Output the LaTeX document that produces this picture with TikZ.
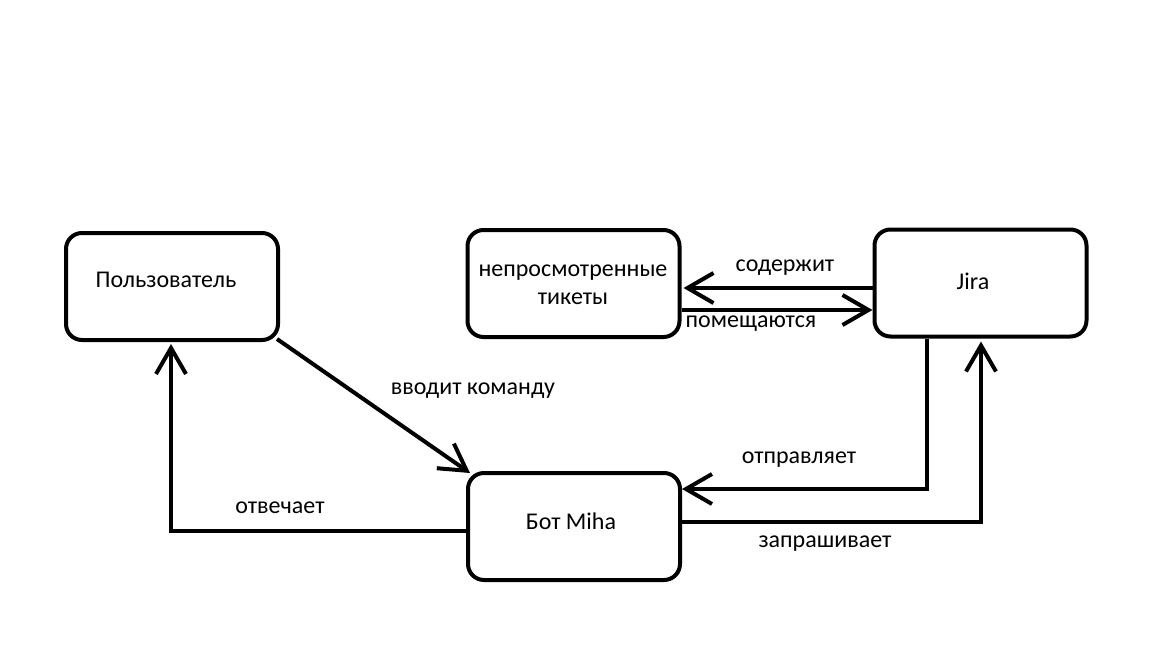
\documentclass[tikz,border=0pt]{standalone}
\usepackage{fontspec}
\setmainfont{Carlito}
\usetikzlibrary{arrows.meta,calc}
\tikzset{
  box/.style={draw=black,line width=4pt,rounded corners=16pt,minimum width=212pt,minimum height=107pt,inner sep=0pt},
  txt/.style={font=\fontsize{24}{28}\selectfont,inner sep=0pt,align=center},
  arr/.style={line width=4pt,-{Straight Barb[length=26pt,width=30pt,line width=4pt]}},
  ln/.style={line width=4pt}
}
\begin{document}
\begin{tikzpicture}[x=1pt,y=-1pt]
\useasboundingbox[fill=white] (0,0) rectangle (1152,648);
\node[box] (user) at (172,286.5) {};
\node[box] (tickets) at (573.5,283.5) {};
\node[box] (jira) at (980.5,283) {};
\node[box] (bot) at (574,526.5) {};
\node[txt] (usert) at (166,280) {Пользователь};
\node[txt] (ticketst) at (573,285) {непросмотренные\\тикеты};
\node[txt] (jirat) at (973,281) {Jira};
\node[txt] (bott) at (571,521) {Бот Miha};
% connectors
\draw[arr] ($(user.south east)+(-3,-3)$) -- ($(bot.north west)+(4,2)$);
\draw[arr] ($(bot.west)+(0,4)$) -| ($(user.south)+(-1,2)$);
\draw[arr] ($(jira.west)+(0,5)$) -- ($(tickets.east)+(2,4.5)$);
\draw[arr] ($(tickets.east)+(0,26.5)$) -- ($(jira.west)+(0,27)$);
\draw[arr] ($(jira.south)+(-53.5,0)$) |- ($(bot.east)+(0,-37.5)$);
\draw[arr] ($(bot.east)+(0,-4.5)$) -| ($(jira.south)+(0.5,3)$);
% labels
\node[txt] (l1) at (785,268) {содержит};
\node[txt] (l2) at (751,324) {помещаются};
\node[txt] (l3) at (473,391) {вводит команду};
\node[txt] (l4) at (280,508) {отвечает};
\node[txt] (l5) at (799,460) {отправляет};
\node[txt] (l6) at (825,544) {запрашивает};
\end{tikzpicture}
\end{document}
